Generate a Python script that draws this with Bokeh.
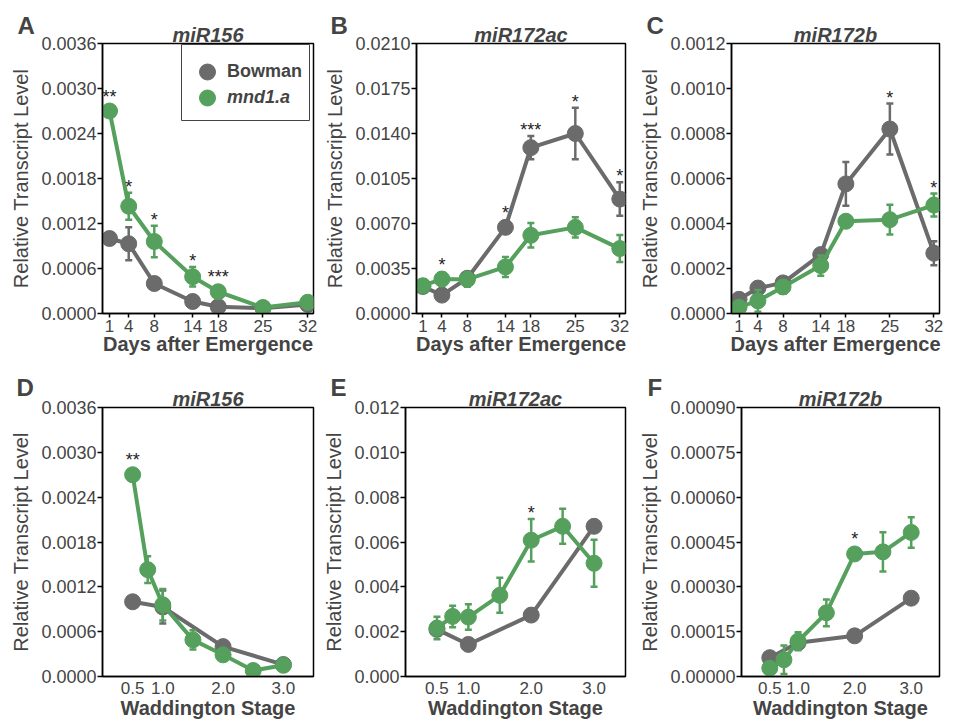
from bokeh.plotting import figure
from bokeh.layouts import row, column
from bokeh.models import (ColumnDataSource, FixedTicker, PrintfTickFormatter, Range1d,
                          Title, Legend, LegendItem, BoxAnnotation)
from bokeh.core.properties import value
from bokeh.embed import file_html
from bokeh.resources import INLINE

# ---------------- data ----------------
days = [1, 4, 8, 14, 18, 25, 32]
bowman_stage = [0.5, 1.0, 2.0, 3.0]            # Bowman at days 1, 4, 8, 14
mnd1a_stage = [0.5, 0.75, 1.0, 1.5, 2.0, 2.5, 3.0]
day_ticks = [1, 4, 8, 14, 18, 25, 32]
stage_ticks = [0.5, 1.0, 2.0, 3.0]

mir156_bowman = [0.00100, 0.00093, 0.00040, 0.00016, 0.00009, 0.00007, 0.00012]
mir156_bowman_se = [0.00002, 0.00022, 0.00003, 0.00002, 0.00001, 0.00001, 0.00001]
mir156_mnd1a = [0.00270, 0.00143, 0.00096, 0.00049, 0.00029, 0.00008, 0.00015]
mir156_mnd1a_se = [0.00004, 0.00018, 0.00021, 0.00013, 0.00003, 0.00001, 0.00002]

mir172ac_bowman = [0.00210, 0.00143, 0.00274, 0.00670, 0.01290, 0.01400, 0.00890]
mir172ac_bowman_se = [0.00020, 0.00010, 0.00020, 0.00020, 0.00090, 0.00200, 0.00130]
mir172ac_mnd1a = [0.00216, 0.00268, 0.00265, 0.00362, 0.00608, 0.00670, 0.00505]
mir172ac_mnd1a_se = [0.00050, 0.00048, 0.00057, 0.00078, 0.00095, 0.00078, 0.00105]

mir172b_bowman = [0.000063, 0.000113, 0.000136, 0.000262, 0.000576, 0.000820, 0.000268]
mir172b_bowman_se = [0.000010, 0.000015, 0.000010, 0.000015, 0.000097, 0.000113, 0.000053]
mir172b_mnd1a = [0.000028, 0.000056, 0.000118, 0.000213, 0.000410, 0.000417, 0.000482]
mir172b_mnd1a_se = [0.000010, 0.000048, 0.000030, 0.000045, 0.000010, 0.000066, 0.000051]

stars_a_x = [1, 4, 8, 14, 18]
stars_a = ["**", "*", "*", "*", "***"]
stars_b_x = [4, 14, 18, 25, 32]
stars_b = ["*", "*", "***", "*", "*"]
stars_c_x = [25, 32]
stars_c = ["*", "*"]
stars_d_x = [0.5]
stars_d = ["**"]
stars_e_x = [2.0]
stars_e = ["*"]
stars_f_x = [2.0]
stars_f = ["*"]

# ---------------- style ----------------
FONT = "Liberation Sans"
GRAY = "#6b6b6b"
GREEN = "#55a05c"
MARKER = 16


def make_panel(letter, title, xb, yb, eb, xm, ym, em, star_x, star_t,
               ymax, ystep, yfmt, xticks, xfmt, xr, xlabel,
               W, left, right, H, top, bottom, letter_dx, letter_standoff,
               xtick_out, xstandoff, xlab_standoff, legend=False):
    fh = H - top - bottom
    p = figure(width=W, height=H, min_border_left=left, min_border_right=right,
               min_border_top=top, min_border_bottom=bottom,
               x_range=Range1d(*xr), y_range=Range1d(0, ymax),
               output_backend="svg", toolbar_location=None, tools="")
    p.xgrid.visible = False
    p.ygrid.visible = False
    p.outline_line_color = "black"
    p.outline_line_width = 1.5
    p.outline_line_alpha = 1.0
    p.background_fill_color = "white"

    # panel letter (outermost title)
    p.title.text = letter
    p.title.align = "left"
    p.title.offset = letter_dx
    p.title.vertical_align = "bottom"
    p.title.standoff = letter_standoff
    p.title.text_font = FONT
    p.title.text_font_size = "24px"
    p.title.text_font_style = "bold"

    # miRNA name (directly above the frame)
    p.add_layout(Title(text=title, align="center", vertical_align="top", standoff=-9,
                       text_font=FONT, text_font_size="20px",
                       text_font_style="bold italic"), "above")

    n = int(round(ymax / ystep))
    yticks = [round(i * ystep, 8) for i in range(n + 1)]
    ax = p.yaxis[0]
    ax.ticker = FixedTicker(ticks=yticks)
    ax.formatter = PrintfTickFormatter(format=yfmt)
    ax.axis_label = "Relative Transcript Level"
    ax.axis_label_text_font = FONT
    ax.axis_label_text_font_size = "20px"
    ax.axis_label_text_font_style = "normal"
    ax.axis_label_standoff = 6
    ax.major_label_text_font = FONT
    ax.major_label_text_font_size = "18px"
    ax.major_label_standoff = 1
    ax.major_tick_out = 5
    ax.major_tick_in = 0
    ax.minor_tick_out = 0
    ax.minor_tick_in = 0
    ax.axis_line_width = 1.5
    ax.major_tick_line_width = 1.5

    bx = p.xaxis[0]
    bx.ticker = FixedTicker(ticks=xticks)
    bx.formatter = PrintfTickFormatter(format=xfmt)
    bx.major_label_text_font = FONT
    bx.major_label_text_font_size = "17px"
    bx.major_label_standoff = xstandoff
    bx.major_tick_out = xtick_out
    bx.major_tick_in = 0
    bx.minor_tick_out = 0
    bx.minor_tick_in = 0
    bx.axis_line_width = 1.5
    bx.major_tick_line_width = 1.5

    # x-axis title below the tick labels
    p.add_layout(Title(text=xlabel, align="center", vertical_align="bottom",
                       standoff=xlab_standoff, text_font=FONT, text_font_size="20px",
                       text_font_style="bold"), "below")

    rends = []
    for xs, ys, es, col in [(xb, yb, eb, GRAY), (xm, ym, em, GREEN)]:
        src = ColumnDataSource(dict(x=list(xs), y=list(ys),
                                    lo=[y - e for y, e in zip(ys, es)],
                                    hi=[y + e for y, e in zip(ys, es)]))
        p.segment(x0="x", y0="lo", x1="x", y1="hi", source=src, line_color=col, line_width=2.5)
        p.scatter(x="x", y="hi", source=src, marker="dash", size=7, line_color=col, line_width=2.5)
        p.scatter(x="x", y="lo", source=src, marker="dash", size=7, line_color=col, line_width=2.5)
        p.line(x="x", y="y", source=src, line_color=col, line_width=4, line_join="round")
        r = p.scatter(x="x", y="y", source=src, size=MARKER, marker="circle",
                      fill_color=col, line_color=col, line_width=1)
        rends.append(r)

    # significance stars, placed above the highest error bar / marker at that x
    ppu = fh / ymax
    rad = (MARKER / 2 + 0.5) / ppu
    sy = []
    for sx in star_x:
        cands = []
        for xs, ys, es in [(xb, yb, eb), (xm, ym, em)]:
            for x, y, e in zip(xs, ys, es):
                if abs(x - sx) < 1e-9:
                    cands.append(max(y + e, y + rad))
        sy.append(max(cands))
    p.text(x=list(star_x), y=sy, text=list(star_t), text_align="center",
           text_baseline="alphabetic", text_font=value(FONT), text_font_size="18px",
           text_color="#222222", y_offset=-6)

    if legend:
        p.add_layout(BoxAnnotation(left=79, right=207, bottom=193, top=269,
                                   left_units="screen", right_units="screen",
                                   top_units="screen", bottom_units="screen",
                                   fill_color="white", fill_alpha=1.0,
                                   line_color="#444444", line_width=1, line_alpha=1.0))
        for lab, style, rr, ly in [("Bowman", "bold", rends[0], 220),
                                   ("mnd1.a", "bold italic", rends[1], 194.5)]:
            lg = Legend(items=[LegendItem(label=lab, renderers=[rr])], location=(85, ly),
                        padding=0, spacing=0, margin=0, glyph_width=40, glyph_height=43,
                        label_height=43, label_standoff=0, label_text_font=FONT,
                        label_text_font_size="18px", label_text_font_style=style,
                        border_line_alpha=0, background_fill_alpha=0)
            p.add_layout(lg)
    return p


top_common = dict(xticks=day_ticks, xfmt="%d", xlabel="Days after Emergence",
                  H=360, top=43, bottom=47, xtick_out=4, xstandoff=2, xlab_standoff=-7,
                  letter_standoff=-20)
bot_common = dict(xticks=stage_ticks, xfmt="%.1f", xlabel="Waddington Stage",
                  H=360, top=47, bottom=44, xtick_out=0, xstandoff=5, xlab_standoff=-4,
                  letter_standoff=-16, xr=(0, 3.5))

pA = make_panel("A", "miR156", days, mir156_bowman, mir156_bowman_se,
                days, mir156_mnd1a, mir156_mnd1a_se, stars_a_x, stars_a,
                0.0036, 0.0006, "%.4f", xr=(-0.1, 32.9), W=318, left=102, right=5,
                letter_dx=-85, legend=True, **top_common)
pB = make_panel("B", "miR172ac", days, mir172ac_bowman, mir172ac_bowman_se,
                days, mir172ac_mnd1a, mir172ac_mnd1a_se, stars_b_x, stars_b,
                0.0210, 0.0035, "%.4f", xr=(0.0, 32.9), W=318, left=98, right=11,
                letter_dx=-86, **top_common)
pC = make_panel("C", "miR172b", days, mir172b_bowman, mir172b_bowman_se,
                days, mir172b_mnd1a, mir172b_mnd1a_se, stars_c_x, stars_c,
                0.0012, 0.0002, "%.4f", xr=(-0.2, 32.9), W=316, left=92, right=13,
                letter_dx=-85, **top_common)

pD = make_panel("D", "miR156", bowman_stage, mir156_bowman[:4], mir156_bowman_se[:4],
                mnd1a_stage, mir156_mnd1a, mir156_mnd1a_se, stars_d_x, stars_d,
                0.0036, 0.0006, "%.4f", W=318, left=102, right=5,
                letter_dx=-86, **bot_common)
pE = make_panel("E", "miR172ac", bowman_stage, mir172ac_bowman[:4], mir172ac_bowman_se[:4],
                mnd1a_stage, mir172ac_mnd1a, mir172ac_mnd1a_se, stars_e_x, stars_e,
                0.012, 0.002, "%.3f", W=318, left=87, right=11,
                letter_dx=-75, **bot_common)
pF = make_panel("F", "miR172b", bowman_stage, mir172b_bowman[:4], mir172b_bowman_se[:4],
                mnd1a_stage, mir172b_mnd1a, mir172b_mnd1a_se, stars_f_x, stars_f,
                0.0009, 0.00015, "%.5f", W=316, left=102, right=13,
                letter_dx=-94, **bot_common)

layout = column(row(pA, pB, pC), row(pD, pE, pF))
open("out.html", "w").write(file_html(layout, INLINE))
